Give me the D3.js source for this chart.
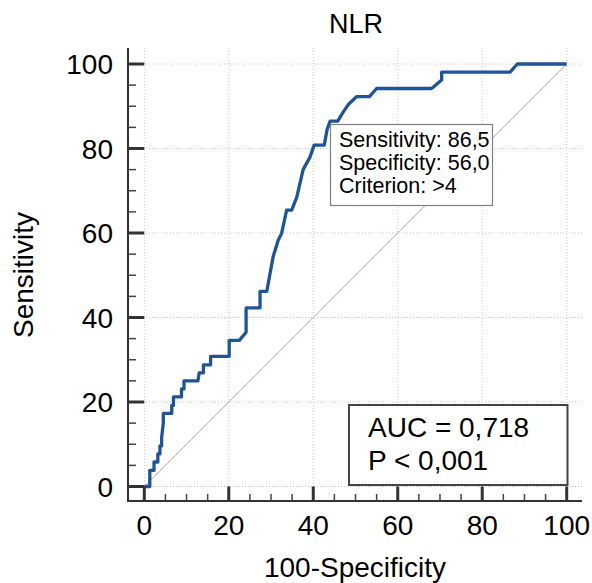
<!DOCTYPE html>
<html><head><meta charset="utf-8">
<script src="https://cdn.jsdelivr.net/npm/d3@7"></script>
<style>body{margin:0;background:#fff}svg{display:block}text{font-family:"Liberation Sans",Arial,sans-serif;fill:#000}</style>
</head><body>
<script>
const title = "NLR";
const xLabel = "100-Specificity";
const yLabel = "Sensitivity";
const majorTicks = [0, 20, 40, 60, 80, 100];
// ROC curve (100-Specificity, Sensitivity)
const fpr = [0,1.3,1.3,2.3,2.3,3.2,3.2,3.7,3.7,4.1,4.1,4.5,4.5,6.5,6.5,6.9,6.9,8.8,8.8,9.4,9.4,12.7,13.0,14.0,14.0,15.7,15.7,20.1,20.1,22.5,24.1,24.1,27.4,27.4,29.0,30.5,31.7,32.5,33.7,34.9,36.1,37.6,39.2,40.2,42.6,43.3,44.0,45.8,47.0,48.3,50.3,53.3,55.0,68.0,70.4,70.4,86.6,88.3,100];
const tpr = [0,0,3.8,3.8,5.8,5.8,7.7,7.7,9.6,9.6,11.5,15.0,17.3,17.3,19.2,19.2,21.2,21.2,23.1,23.1,25.0,25.0,26.9,26.9,28.8,28.8,30.8,30.8,34.6,34.6,36.5,42.3,42.3,46.2,46.2,54.4,58.3,59.9,65.4,65.4,68.5,75.0,77.9,80.8,80.8,84.6,86.5,86.5,88.5,90.4,92.3,92.3,94.2,94.2,96.2,98.1,98.1,100,100];
const cutLines = ["Sensitivity: 86,5", "Specificity: 56,0", "Criterion: >4"];
const aucLines = ["AUC = 0,718", "P < 0,001"];

const W = 592, H = 583;
const svg = d3.select("body").append("svg").attr("width", W).attr("height", H);
const x = d3.scaleLinear().domain([0, 100]).range([144.3, 566.7]);
const y = d3.scaleLinear().domain([0, 100]).range([486.5, 64]);
const axX = 128, axY = 501, axTop = 48, axRight = 582;

// grid
const g = svg.append("g");
majorTicks.forEach(t => {
  g.append("line").attr("x1", x(t)).attr("x2", x(t)).attr("y1", axTop).attr("y2", axY)
    .attr("stroke", "#c8c8c8").attr("stroke-width", 1).attr("stroke-dasharray", "1,2");
  g.append("line").attr("y1", y(t)).attr("y2", y(t)).attr("x1", axX).attr("x2", axRight)
    .attr("stroke", "#c8c8c8").attr("stroke-width", 1).attr("stroke-dasharray", "1,2");
});

// diagonal
svg.append("line").attr("x1", x(0)).attr("y1", y(0)).attr("x2", x(100)).attr("y2", y(100))
  .attr("stroke", "#d99a9a").attr("stroke-width", 1);

// ROC curve
const pts = fpr.map((d, i) => [d, tpr[i]]);
svg.append("path").datum(pts)
  .attr("d", d3.line().x(d => x(d[0])).y(d => y(d[1])))
  .attr("fill", "none").attr("stroke", "#1f5597").attr("stroke-width", 3.3).attr("stroke-linejoin", "round");

// axes
svg.append("line").attr("x1", axX).attr("x2", axX).attr("y1", axTop).attr("y2", axY + 1)
  .attr("stroke", "#333").attr("stroke-width", 2);
svg.append("line").attr("x1", axX - 1).attr("x2", axRight).attr("y1", axY).attr("y2", axY)
  .attr("stroke", "#333").attr("stroke-width", 2);
const minor = d3.range(0, 101, 5).filter(v => v % 20 !== 0);
minor.forEach(t => {
  svg.append("line").attr("x1", x(t)).attr("x2", x(t)).attr("y1", axY).attr("y2", axY - 7)
    .attr("stroke", "#444").attr("stroke-width", 1.5);
  svg.append("line").attr("y1", y(t)).attr("y2", y(t)).attr("x1", axX).attr("x2", axX + 8)
    .attr("stroke", "#444").attr("stroke-width", 1.5);
});
majorTicks.forEach(t => {
  svg.append("line").attr("x1", x(t)).attr("x2", x(t)).attr("y1", axY).attr("y2", y(0))
    .attr("stroke", "#333").attr("stroke-width", 3);
  svg.append("line").attr("y1", y(t)).attr("y2", y(t)).attr("x1", axX).attr("x2", x(0))
    .attr("stroke", "#333").attr("stroke-width", 3);
  svg.append("text").attr("x", x(t)).attr("y", 535).attr("text-anchor", "middle")
    .attr("font-size", 28).text(t);
  svg.append("text").attr("x", 113).attr("y", y(t) + 10).attr("text-anchor", "end")
    .attr("font-size", 28).text(t);
});

// labels
svg.append("text").attr("x", 356).attr("y", 33).attr("text-anchor", "middle").attr("font-size", 27).text(title);
svg.append("text").attr("x", 355).attr("y", 577).attr("text-anchor", "middle").attr("font-size", 28).text(xLabel);
svg.append("text").attr("transform", "translate(33,275) rotate(-90)").attr("text-anchor", "middle")
  .attr("font-size", 28).text(yLabel);

// criterion box
svg.append("rect").attr("x", 330.5).attr("y", 124.5).attr("width", 162).attr("height", 81)
  .attr("fill", "#fff").attr("stroke", "#808080").attr("stroke-width", 1.2);
cutLines.forEach((s, i) => {
  svg.append("text").attr("x", 339).attr("y", 147 + i * 23).attr("font-size", 21.5).text(s);
});

// AUC box
svg.append("rect").attr("x", 349).attr("y", 405).attr("width", 218.5).attr("height", 80)
  .attr("fill", "#fff").attr("stroke", "#444").attr("stroke-width", 2);
aucLines.forEach((s, i) => {
  svg.append("text").attr("x", 368).attr("y", 437 + i * 33).attr("font-size", 28).text(s);
});
</script>
</body></html>
